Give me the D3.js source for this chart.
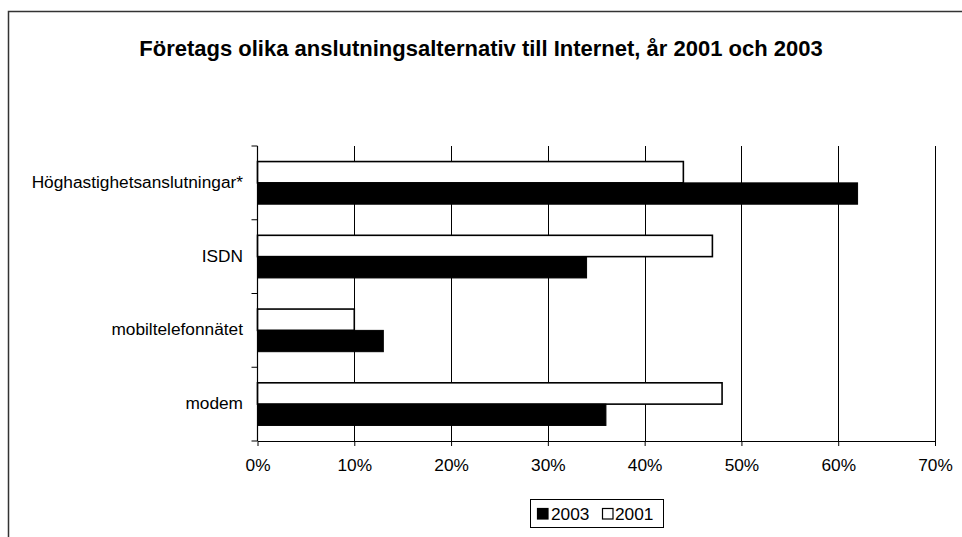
<!DOCTYPE html>
<html>
<head>
<meta charset="utf-8">
<script src="https://cdn.jsdelivr.net/npm/d3@7"></script>
<style>
  html, body { margin: 0; padding: 0; background: #fff; }
  svg { display: block; font-family: Arial, "Liberation Sans", sans-serif; }
</style>
</head>
<body>
<svg id="chart" width="962" height="537"></svg>
<script>
// Connection types, top to bottom
const categories = ["Höghastighetsanslutningar*", "ISDN", "mobiltelefonnätet", "modem"];
// Share of companies (%)
const values2001 = [44, 47, 10, 48];
const values2003 = [62, 34, 13, 36];
const xTicks = [0, 10, 20, 30, 40, 50, 60, 70];
const seriesNames = ["2003", "2001"];

const svg = d3.select("#chart");
const plotLeft = 257.5, plotRight = 935, plotTop = 146, plotBottom = 441;
const labelSize = 17.3;

// Outer frame
svg.append("rect")
  .attr("x", 8.5).attr("y", 11.5)
  .attr("width", 1000).attr("height", 600)
  .attr("fill", "none").attr("stroke", "#333").attr("stroke-width", 1.5);

// Title
svg.append("text")
  .attr("x", 481).attr("y", 56)
  .attr("text-anchor", "middle")
  .attr("font-size", 22).attr("font-weight", "bold")
  .text("Företags olika anslutningsalternativ till Internet, år 2001 och 2003");

const x = d3.scaleLinear().domain([0, 70]).range([plotLeft, plotRight]);
const y = d3.scaleBand().domain(categories).range([plotTop, plotBottom]).paddingInner(0).paddingOuter(0);
const inner = d3.scaleBand().domain(["2001", "2003"]).range([0, y.bandwidth()]).paddingOuter(0.73).paddingInner(0);

// Vertical gridlines
svg.append("g").selectAll("line").data(xTicks.slice(1)).join("line")
  .attr("x1", d => Math.round(x(d)) + 0.5).attr("x2", d => Math.round(x(d)) + 0.5)
  .attr("y1", plotTop).attr("y2", plotBottom)
  .attr("stroke", "#000").attr("stroke-width", 1);

// Bars
const groups = svg.append("g").selectAll("g").data(categories).join("g")
  .attr("transform", d => `translate(0,${y(d)})`);

groups.append("rect")
  .attr("x", plotLeft)
  .attr("y", () => inner("2001"))
  .attr("width", (d, i) => x(values2001[i]) - plotLeft)
  .attr("height", inner.bandwidth())
  .attr("fill", "#fff").attr("stroke", "#000").attr("stroke-width", 1.6);

groups.append("rect")
  .attr("x", plotLeft)
  .attr("y", () => inner("2003"))
  .attr("width", (d, i) => x(values2003[i]) - plotLeft)
  .attr("height", inner.bandwidth())
  .attr("fill", "#000").attr("stroke", "#000").attr("stroke-width", 1);

// X axis
const xAxis = svg.append("g")
  .attr("transform", `translate(0,${plotBottom})`)
  .call(d3.axisBottom(x).tickValues(xTicks).tickFormat(d => d + "%").tickSize(5).tickSizeOuter(0));
xAxis.select(".domain").attr("stroke", "#000").attr("stroke-width", 1.2);
xAxis.selectAll("line").attr("stroke", "#000");
xAxis.selectAll("text").attr("font-size", labelSize).attr("font-family", "Arial, 'Liberation Sans', sans-serif")
  .attr("fill", "#000").attr("y", 30).attr("dy", null);

// Y axis with category boundary ticks
const yAxisG = svg.append("g");
yAxisG.append("line")
  .attr("x1", plotLeft).attr("x2", plotLeft).attr("y1", plotTop).attr("y2", plotBottom)
  .attr("stroke", "#000").attr("stroke-width", 1.2);
const boundaries = categories.map(c => y(c)).concat([plotBottom]);
yAxisG.selectAll("line.tk").data(boundaries).join("line").attr("class", "tk")
  .attr("x1", plotLeft - 6).attr("x2", plotLeft).attr("y1", d => d).attr("y2", d => d)
  .attr("stroke", "#000");
yAxisG.selectAll("text").data(categories).join("text")
  .attr("x", 243).attr("y", d => y(d) + y.bandwidth() / 2 + 5)
  .attr("text-anchor", "end").attr("font-size", labelSize)
  .text(d => d);

// Legend
const lg = svg.append("g");
lg.append("rect").attr("x", 530.5).attr("y", 499.5).attr("width", 133).attr("height", 28)
  .attr("fill", "#fff").attr("stroke", "#000").attr("stroke-width", 1);
const legendItems = [
  { name: seriesNames[0], fill: "#000", sx: 537, tx: 551 },
  { name: seriesNames[1], fill: "#fff", sx: 602, tx: 615 }
];
legendItems.forEach(it => {
  lg.append("rect").attr("x", it.sx + 0.5).attr("y", 508.5).attr("width", 10.5).attr("height", 10.5)
    .attr("fill", it.fill).attr("stroke", "#000").attr("stroke-width", 1.2);
  lg.append("text").attr("x", it.tx).attr("y", 520).attr("font-size", labelSize).text(it.name);
});
</script>
</body>
</html>
